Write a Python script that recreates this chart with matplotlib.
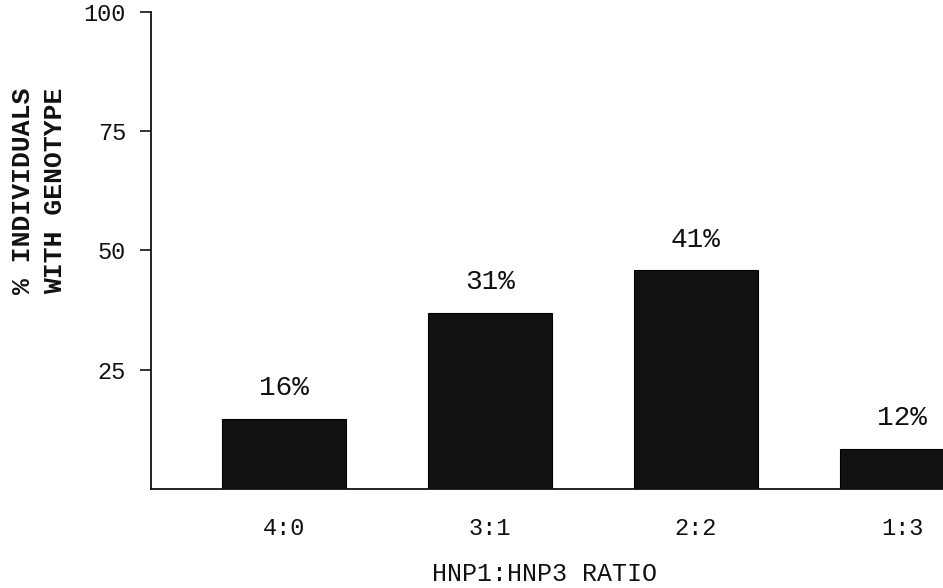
import numpy as np
import matplotlib
matplotlib.use("Agg")
import matplotlib.pyplot as plt

# values
ratios = ["4:0", "3:1", "2:2", "1:3"]
bar_heights = [14.7, 36.9, 45.9, 8.4]
bar_labels = ["16%", "31%", "41%", "12%"]
y_ticks = [25, 50, 75, 100]

plt.rcParams['font.family'] = ['Liberation Mono', 'DejaVu Sans Mono']

fig = plt.figure(figsize=(9.43, 5.88), dpi=100)
ax = fig.add_axes([151 / 943, 1 - 489 / 588, 1 - 151 / 943, (489 - 12) / 588])

x = np.arange(len(ratios))
bars = ax.bar(x, bar_heights, width=0.6, color='#111111', edgecolor='#000000', linewidth=0.8)

# percentage labels above the bars
for rect, lab in zip(bars, bar_labels):
    ax.annotate(lab, (rect.get_x() + rect.get_width() / 2, rect.get_height()),
                xytext=(0, 22), textcoords='offset points',
                ha='center', va='center', fontsize=20, color='#111111')

ax.set_xlim(-0.646, 3.199)
ax.set_ylim(0, 100)
ax.set_yticks(y_ticks)
ax.set_xticks(x)
ax.set_xticklabels(ratios)

ax.spines['top'].set_visible(False)
ax.spines['right'].set_visible(False)
for s in ('left', 'bottom'):
    ax.spines[s].set_linewidth(1.3)
    ax.spines[s].set_color('#111111')

ax.tick_params(axis='y', direction='out', length=8, width=1.2, pad=10,
               labelsize=17, colors='#111111')
ax.tick_params(axis='x', length=0, pad=20, labelsize=17, colors='#111111')

ax.set_xlabel("HNP1:HNP3 RATIO", fontsize=18, color='#111111')
ax.xaxis.set_label_coords((545 - 151) / (943 - 151), -(574 - 489) / (489 - 12))
ax.xaxis.label.set_va('center')

# two-line rotated y label, lines aligned at the top end
fig.text(23 / 943, 1 - 88 / 588, "% INDIVIDUALS", rotation=90, ha='center', va='top',
         fontsize=19, fontweight='bold', color='#111111')
fig.text(55 / 943, 1 - 88 / 588, "WITH GENOTYPE", rotation=90, ha='center', va='top',
         fontsize=19, fontweight='bold', color='#111111')

fig.savefig("out.png", dpi=100)
